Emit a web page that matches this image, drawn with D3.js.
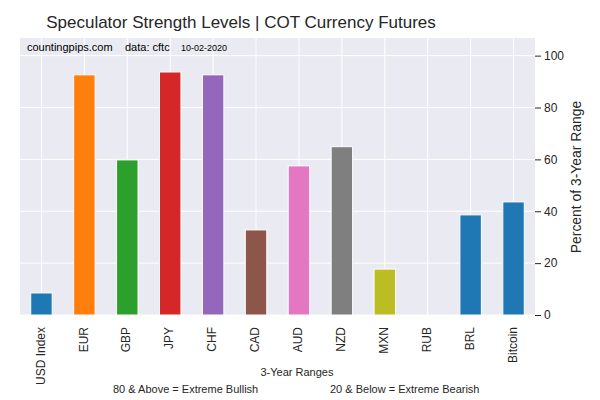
<!DOCTYPE html>
<html><head><meta charset="utf-8">
<script src="https://cdn.jsdelivr.net/npm/d3@7"></script>
<style>body{margin:0;background:#fff;} text{font-family:Arial,"Liberation Sans",sans-serif;}</style>
</head><body>
<svg id="c" width="600" height="400"></svg>
<script>
const categories = ["USD Index","EUR","GBP","JPY","CHF","CAD","AUD","NZD","MXN","RUB","BRL","Bitcoin"];
const values = [8.5, 92.6, 59.8, 93.7, 92.6, 32.8, 57.5, 64.9, 17.7, 0, 38.6, 43.6];
const colors = ["#1f77b4","#ff7f0e","#2ca02c","#d62728","#9467bd","#8c564b","#e377c2","#7f7f7f","#bcbd22","#17becf","#1f77b4","#1f77b4"];
const yTicks = [0,20,40,60,80,100];

const svg = d3.select("#c");
const L = 20, R = 535, T = 38, B = 315;
const x = d3.scaleBand().domain(categories).range([L, R]).paddingInner(0).paddingOuter(0);
const y = d3.scaleLinear().domain([0, 106.8]).range([B, T]);
const bw = x.bandwidth()*0.5;

svg.append("rect").attr("x",L).attr("y",T).attr("width",R-L).attr("height",B-T).attr("fill","#eaeaf2");
// grid
svg.append("g").selectAll("line").data(yTicks).join("line")
  .attr("x1",L).attr("x2",R).attr("y1",d=>y(d)).attr("y2",d=>y(d))
  .attr("stroke","#fff").attr("stroke-width",1);
svg.append("g").selectAll("line").data(categories).join("line")
  .attr("x1",d=>x(d)+x.bandwidth()/2).attr("x2",d=>x(d)+x.bandwidth()/2).attr("y1",T).attr("y2",B)
  .attr("stroke","#fff").attr("stroke-width",1);
// bars
svg.append("g").selectAll("rect").data(categories).join("rect")
  .attr("x",d=>x(d)+x.bandwidth()/2-bw/2)
  .attr("width",bw)
  .attr("y",(d,i)=>y(values[i]))
  .attr("height",(d,i)=>y(0)-y(values[i]))
  .attr("fill",(d,i)=>colors[i])
  .attr("stroke","#fff").attr("stroke-width",1);

// right axis
const ax = svg.append("g").attr("transform",`translate(${R},0)`)
  .call(d3.axisRight(y).tickValues(yTicks).tickSize(6).tickPadding(3));
ax.select(".domain").remove();
ax.selectAll("line").attr("stroke","#262626");
ax.selectAll("text").attr("fill","#262626").style("font-size","12px").style("font-family","Arial, 'Liberation Sans', sans-serif");

// x labels
svg.append("g").selectAll("text").data(categories).join("text")
  .attr("transform",d=>`translate(${x(d)+x.bandwidth()/2-1},${B+12}) rotate(-90)`)
  .attr("text-anchor","end").attr("dy","0.35em")
  .attr("fill","#262626").style("font-size","12px").text(d=>d);

svg.append("text").attr("x",241).attr("y",28).attr("text-anchor","middle")
  .attr("fill","#262626").style("font-size","17px").text("Speculator Strength Levels | COT Currency Futures");
svg.append("text").attr("transform","translate(581,177) rotate(-90)").attr("text-anchor","middle")
  .attr("fill","#262626").style("font-size","13.9px").text("Percent of 3-Year Range");
svg.append("text").attr("x",297).attr("y",376).attr("text-anchor","middle")
  .attr("fill","#262626").style("font-size","11px").text("3-Year Ranges");
svg.append("text").attr("x",113).attr("y",393)
  .attr("fill","#262626").style("font-size","11px").text("80 & Above = Extreme Bullish");
svg.append("text").attr("x",330).attr("y",393)
  .attr("fill","#262626").style("font-size","11px").text("20 & Below = Extreme Bearish");
svg.append("text").attr("x",27).attr("y",51)
  .attr("fill","#000").style("font-size","11px").text("countingpips.com");
svg.append("text").attr("x",125).attr("y",51)
  .attr("fill","#000").style("font-size","11px").text("data: cftc");
svg.append("text").attr("x",181).attr("y",51)
  .attr("fill","#000").style("font-size","9px").text("10-02-2020");
</script>
</body></html>
